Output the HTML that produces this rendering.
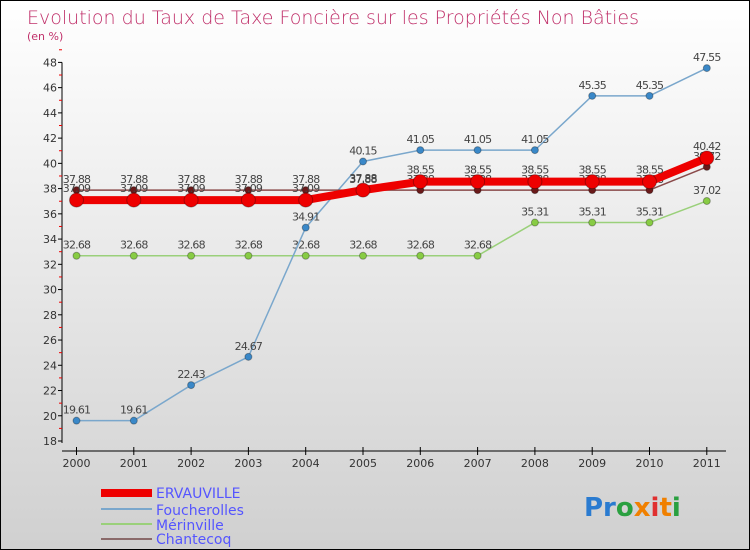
<!DOCTYPE html>
<html><head><meta charset="utf-8"><style>
body{margin:0}
#c{width:748px;height:548px;border:1px solid #000;background:linear-gradient(#fff,#d0d0d0);position:relative;font-family:"DejaVu Sans","Liberation Sans",sans-serif;overflow:hidden}
</style></head><body>
<div id="c">
<svg id="s" width="748" height="548">
<text x="26" y="23" font-size="19" fill="#c0306a" font-family="DejaVu Sans" font-weight="200">Evolution du Taux de Taxe Foncière sur les Propriétés Non Bâties</text>
<text x="26" y="39" font-size="11" fill="#c0306a">(en %)</text>
<g id="axes"></g><g id="series"></g>
<g font-size="14" fill="#5555ff">
<rect x="100" y="488" width="51" height="8" fill="#e00"/><text x="155" y="497">ERVAUVILLE</text>
<rect x="100" y="507" width="51" height="2" fill="#7aa7cc"/><text x="155" y="514">Foucherolles</text>
<rect x="100" y="522" width="51" height="2" fill="#9ad07a"/><text x="155" y="529">Mérinville</text>
<rect x="100" y="537" width="51" height="2" fill="#8a6a6a"/><text x="155" y="543">Chantecoq</text>
</g>
<g font-size="26" font-family="DejaVu Sans" font-weight="bold">
<text x="583" y="515"><tspan fill="#2a7bd0">Pr</tspan><tspan fill="#2aa040">o</tspan><tspan fill="#f08000">x</tspan><tspan fill="#e03030">i</tspan><tspan fill="#f08000">t</tspan><tspan fill="#2aa040">i</tspan></text>
</g>
</svg></div>
<script>
const years=["2000","2001","2002","2003","2004","2005","2006","2007","2008","2009","2010","2011"];
const yTicks=[18,20,22,24,26,28,30,32,34,36,38,40,42,44,46,48];
const ervauville=[37.09,37.09,37.09,37.09,37.09,37.88,38.55,38.55,38.55,38.55,38.55,40.42];
const foucherolles=[19.61,19.61,22.43,24.67,34.91,40.15,41.05,41.05,41.05,45.35,45.35,47.55];
const merinville=[32.68,32.68,32.68,32.68,32.68,32.68,32.68,32.68,35.31,35.31,35.31,37.02];
const chantecoq=[37.88,37.88,37.88,37.88,37.88,37.88,37.88,37.88,37.88,37.88,37.88,39.72];
const NS="http://www.w3.org/2000/svg";
const X=i=>75.5+i*57.3, Y=v=>440-(v-18)*12.62;
function mk(t,a,p){const e=document.createElementNS(NS,t);for(const k in a)e.setAttribute(k,a[k]);p.appendChild(e);return e;}
const ax=document.getElementById('axes'), sr=document.getElementById('series');
let l=mk('line',{x1:61,y1:Y(48),x2:61,y2:442,stroke:'#000'},ax);


l=mk('line',{x1:61,y1:450,x2:725,y2:450,stroke:'#000'},ax);


yTicks.forEach(v=>{mk('line',{x1:57,x2:61,y1:Y(v),y2:Y(v),stroke:'#000'},ax);
 mk('line',{x1:58,x2:61,y1:Y(v+1),y2:Y(v+1),stroke:'#e00'},ax);
 const t=mk('text',{x:56,y:Y(v)+4,'font-size':11,fill:'#333','text-anchor':'end'},ax);t.textContent=v;
 
 });
years.forEach((y,i)=>{mk('line',{x1:X(i),x2:X(i),y1:446,y2:454,stroke:'#000'},ax);
 const t=mk('text',{x:X(i),y:466,'font-size':11,fill:'#333','text-anchor':'middle'},ax);t.textContent=y;
 
 });
function series(name,vals,col,w,r,dot,lab){
 const g=mk('g',{},sr);
 
 
 mk('polyline',{points:vals.map((v,i)=>X(i)+','+Y(v)).join(' '),fill:'none',stroke:col,'stroke-width':w,'stroke-linejoin':'round'},g);
 vals.forEach((v,i)=>{const c=mk('circle',{cx:X(i),cy:Y(v),r:r,fill:dot,stroke:'rgba(0,0,0,0.3)'},g);
  
  
  const t=mk('text',{x:X(i),y:Y(v)-lab,'font-size':11,fill:'#444','text-anchor':'middle','letter-spacing':'-0.8'},g);t.textContent=v.toFixed(2).replace(/^(\d+\.\d)0$/,'$1');});
}
series('merinville',merinville,'#9ad07a',1.5,3.5,'#8c4',7);
series('foucherolles',foucherolles,'#7aa7cc',1.5,3.5,'#3a88c8',7);
series('chantecoq',chantecoq,'#8a4a4a',1.5,3.5,'#6a1a1a',7);
series('ervauville',ervauville,'#e00',8,7,'#e00',8);
</script>
</body></html>
